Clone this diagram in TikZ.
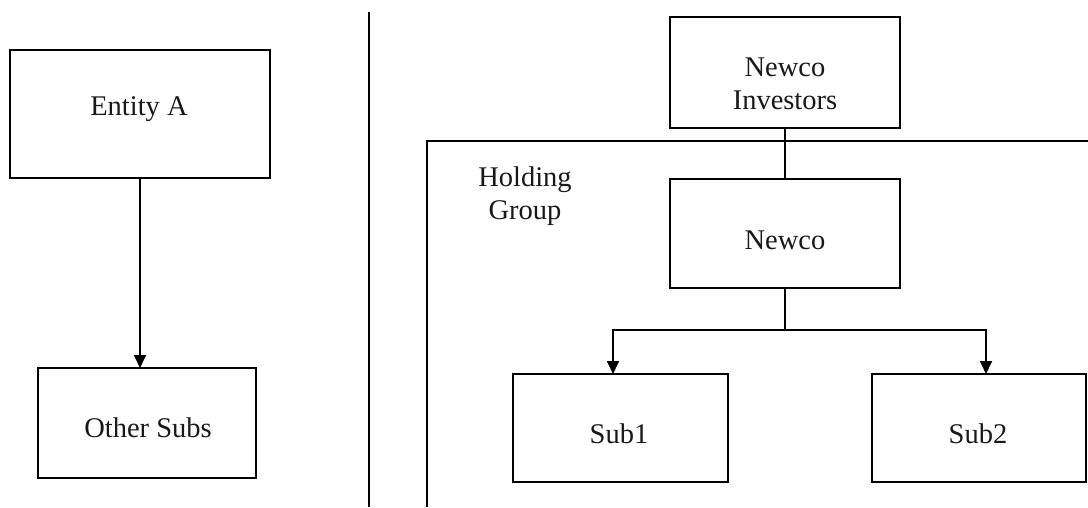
\documentclass[tikz,border=0pt]{standalone}
\usepackage{fontspec}
\setmainfont{Liberation Serif}
\usetikzlibrary{arrows.meta}
\begin{document}
\begin{tikzpicture}[x=1pt,y=-1pt,
  box/.style={draw=black, line width=1.8pt, inner sep=0pt, outer sep=0pt, rectangle},
  lbl/.style={font=\fontsize{28.5}{33}\selectfont, align=center, inner sep=0pt, text=black!90},
  conn/.style={draw=black, line width=1.8pt},
  arr/.style={conn, -{Triangle[length=13pt,width=12pt]}}]
\useasboundingbox (0,0) rectangle (1088,507);
% left side
\node[box, minimum width=260pt, minimum height=128pt] (ea) at (140,114) {};
\node[lbl] (eat) at (139,109) {Entity A};
\node[box, minimum width=218pt, minimum height=110pt] (os) at (147,423) {};
\node[lbl] (ost) at (148,428) {Other Subs};
\draw[arr] (ea.south) -- (ea.south |- os.north);
% divider
\coordinate (d1) at (369,12);
\coordinate (d2) at (369,507);
\draw[conn] (d1) -- (d2);
% holding group frame
\coordinate (hg1) at (1088,141);
\coordinate (hg2) at (427,141);
\coordinate (hg3) at (427,507);
\draw[conn] (hg1) -- (hg2) -- (hg3);
\node[lbl] (hgt) at (525,196) {Holding\\Group};
% right side
\node[box, minimum width=230pt, minimum height=111pt] (ni) at (785,72.5) {};
\node[lbl] (nit) at (785,84) {Newco\\Investors};
\node[box, minimum width=230pt, minimum height=109pt] (nc) at (785,233.5) {};
\node[lbl] (nct) at (785,240) {Newco};
\node[box, minimum width=215pt, minimum height=108pt] (s1) at (620.5,428) {};
\node[lbl] (s1t) at (619,434) {Sub1};
\node[box, minimum width=214pt, minimum height=108pt] (s2) at (979,428) {};
\node[lbl] (s2t) at (978,434) {Sub2};
\draw[conn] (ni.south) -- (ni.south |- nc.north);
\coordinate (j) at (785,330);
\coordinate (t1) at (613,374);
\coordinate (t2) at (986,374);
\draw[conn] (nc.south) -- (j);
\draw[arr] (j) -| (t1);
\draw[arr] (j) -| (t2);
\end{tikzpicture}
\end{document}
